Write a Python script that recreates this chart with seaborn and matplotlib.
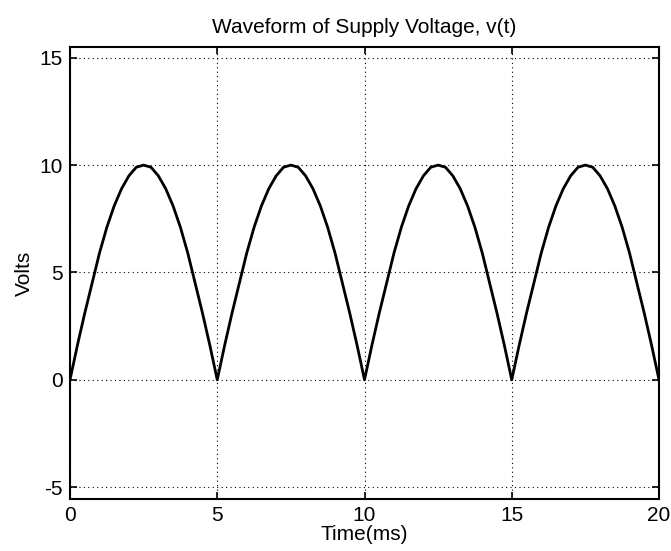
import matplotlib
matplotlib.use("Agg")
import matplotlib.pyplot as plt
import seaborn as sns
import numpy as np

# Time samples (ms) and voltage
time_ms = [0.0, 0.25, 0.5, 0.75, 1.0, 1.25, 1.5, 1.75, 2.0, 2.25,
           2.5, 2.75, 3.0, 3.25, 3.5, 3.75, 4.0, 4.25, 4.5, 4.75,
           5.0, 5.25, 5.5, 5.75, 6.0, 6.25, 6.5, 6.75, 7.0, 7.25,
           7.5, 7.75, 8.0, 8.25, 8.5, 8.75, 9.0, 9.25, 9.5, 9.75,
           10.0, 10.25, 10.5, 10.75, 11.0, 11.25, 11.5, 11.75, 12.0, 12.25,
           12.5, 12.75, 13.0, 13.25, 13.5, 13.75, 14.0, 14.25, 14.5, 14.75,
           15.0, 15.25, 15.5, 15.75, 16.0, 16.25, 16.5, 16.75, 17.0, 17.25,
           17.5, 17.75, 18.0, 18.25, 18.5, 18.75, 19.0, 19.25, 19.5, 19.75,
           20.0]
volts = [0.0, 1.6, 3.1, 4.5, 5.9, 7.1, 8.1, 8.9, 9.5, 9.9,
         10.0, 9.9, 9.5, 8.9, 8.1, 7.1, 5.9, 4.5, 3.1, 1.6,
         0.0, 1.6, 3.1, 4.5, 5.9, 7.1, 8.1, 8.9, 9.5, 9.9,
         10.0, 9.9, 9.5, 8.9, 8.1, 7.1, 5.9, 4.5, 3.1, 1.6,
         0.0, 1.6, 3.1, 4.5, 5.9, 7.1, 8.1, 8.9, 9.5, 9.9,
         10.0, 9.9, 9.5, 8.9, 8.1, 7.1, 5.9, 4.5, 3.1, 1.6,
         0.0, 1.6, 3.1, 4.5, 5.9, 7.1, 8.1, 8.9, 9.5, 9.9,
         10.0, 9.9, 9.5, 8.9, 8.1, 7.1, 5.9, 4.5, 3.1, 1.6,
         0.0]
x_ticks = [0, 5, 10, 15, 20]
y_ticks = [-5, 0, 5, 10, 15]

sns.set_theme(style="white")
plt.rcParams['font.family'] = ['Liberation Sans', 'DejaVu Sans']

fig = plt.figure(figsize=(6.71, 5.51), dpi=100)
ax = fig.add_axes([70/671, 1 - 499/551, (659 - 70)/671, (499 - 47)/551])

sns.lineplot(x=time_ms, y=volts, color="black", linewidth=2.0, ax=ax)

ax.set_xlim(0, 20)
ax.set_ylim(-5.55, 15.5)
ax.set_xticks(x_ticks)
ax.set_yticks(y_ticks)
ax.set_xticklabels([str(v) for v in x_ticks])
ax.set_yticklabels([str(v) for v in y_ticks])

ax.grid(True, color="black", linestyle=(0, (1, 3)), linewidth=0.8)
for s in ax.spines.values():
    s.set_visible(True)
    s.set_color("black")
    s.set_linewidth(1.5)

ax.tick_params(axis="both", direction="in", length=5, width=1.2,
               labelsize=15, colors="black", pad=5,
               top=True, right=True, bottom=True, left=True)

ax.set_title("Waveform of Supply Voltage, v(t)", fontsize=15, pad=10, color="black")
ax.set_xlabel("Time(ms)", fontsize=15, labelpad=0, color="black")
ax.set_ylabel("Volts", fontsize=15, labelpad=4, color="black")

fig.savefig("out.png", dpi=100)
